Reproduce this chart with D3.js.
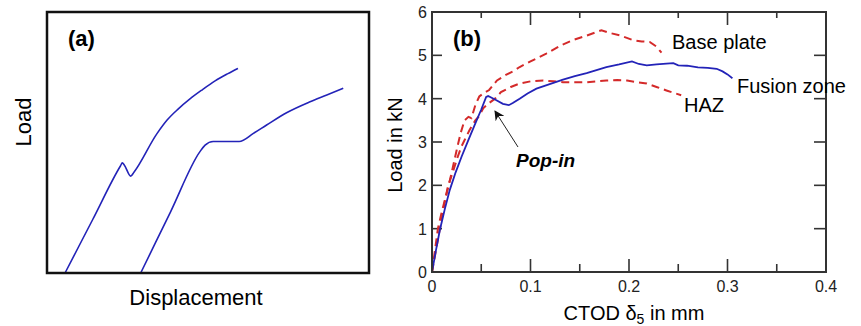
<!DOCTYPE html>
<html>
<head>
<meta charset="utf-8">
<script src="https://cdn.jsdelivr.net/npm/d3@7"></script>
<style>
  body { margin: 0; background: #fff; }
  svg { display: block; font-family: "Liberation Sans", Arial, sans-serif; }
</style>
</head>
<body>
<svg id="chart" width="861" height="326"></svg>
<script>
// ---- panel (a): schematic curves, arbitrary units 0..100 ----
const schemeA1x = [5.6, 14.2, 22.8, 23.4, 24.0, 26.0, 27.0, 34.1, 37.3, 40.7, 44.4, 48.1, 52.2, 56.2, 59.3];
const schemeA1y = [0, 20.5, 41.0, 42.2, 41.4, 37.1, 38.6, 53.3, 58.6, 62.8, 66.7, 70.1, 73.6, 76.4, 78.4];
const schemeA2x = [29.1, 38.3, 47.5, 49.1, 51.6, 59.7, 64.1, 68.2, 74.4, 81.7, 86.9, 92.0];
const schemeA2y = [0, 23.25, 46.5, 49.0, 50.4, 50.4, 53.5, 56.7, 61.4, 65.6, 68.2, 70.8];

// ---- panel (b): CTOD (mm) vs load (kN) ----
const xTicks = [0, 0.1, 0.2, 0.3, 0.4];
const xMinorTicks = [0.05, 0.15, 0.25, 0.35];
const yTicks = [0, 1, 2, 3, 4, 5, 6];

const fusionX = [0, 0.004, 0.008, 0.013, 0.018, 0.024, 0.030, 0.037, 0.044, 0.050, 0.055, 0.057, 0.064, 0.072, 0.078, 0.082, 0.089, 0.097, 0.106, 0.115, 0.124, 0.133, 0.145, 0.157, 0.167, 0.177, 0.190, 0.203, 0.210, 0.218, 0.228, 0.238, 0.245, 0.250, 0.259, 0.270, 0.280, 0.289, 0.295, 0.300, 0.305];
const fusionY = [0, 0.5, 0.97, 1.45, 1.89, 2.3, 2.66, 3.05, 3.43, 3.75, 4.04, 4.06, 3.98, 3.88, 3.85, 3.9, 4.0, 4.12, 4.23, 4.3, 4.37, 4.44, 4.52, 4.59, 4.66, 4.73, 4.79, 4.86, 4.8, 4.77, 4.79, 4.81, 4.82, 4.77, 4.76, 4.72, 4.71, 4.69, 4.63, 4.56, 4.47];

const baseX = [0, 0.003, 0.006, 0.009, 0.013, 0.017, 0.021, 0.025, 0.029, 0.033, 0.037, 0.040, 0.044, 0.048, 0.052, 0.058, 0.066, 0.075, 0.083, 0.089, 0.100, 0.116, 0.130, 0.143, 0.155, 0.165, 0.172, 0.180, 0.191, 0.204, 0.213, 0.221, 0.228, 0.233];
const baseY = [0, 0.5, 1.0, 1.3, 1.66, 2.0, 2.4, 2.81, 3.2, 3.5, 3.58, 3.55, 3.85, 4.05, 4.12, 4.2, 4.42, 4.55, 4.64, 4.73, 4.86, 5.04, 5.22, 5.35, 5.44, 5.52, 5.58, 5.52, 5.46, 5.35, 5.32, 5.31, 5.2, 5.06];

const hazX = [0, 0.004, 0.008, 0.012, 0.016, 0.021, 0.026, 0.030, 0.033, 0.038, 0.044, 0.048, 0.052, 0.058, 0.064, 0.070, 0.080, 0.089, 0.100, 0.113, 0.123, 0.133, 0.145, 0.157, 0.167, 0.177, 0.188, 0.198, 0.208, 0.218, 0.228, 0.238, 0.246, 0.253];
const hazY = [0, 0.5, 1.0, 1.5, 1.96, 2.3, 2.65, 2.9, 3.04, 3.27, 3.5, 3.6, 3.78, 3.9, 4.0, 4.15, 4.27, 4.35, 4.4, 4.42, 4.4, 4.38, 4.38, 4.38, 4.4, 4.42, 4.43, 4.42, 4.38, 4.35, 4.27, 4.19, 4.13, 4.08];

const zip = (xs, ys) => xs.map((x, i) => [x, ys[i]]);

const svg = d3.select("#chart");
const blue = "#2323b8";
const red = "#d42a2a";

// ================= panel (a) =================
const boxA = {left: 47, right: 369, top: 12, bottom: 273};
const xA = d3.scaleLinear().domain([0, 100]).range([boxA.left, boxA.right]);
const yA = d3.scaleLinear().domain([0, 100]).range([boxA.bottom, boxA.top]);

const lineA = d3.line()
    .x(d => xA(d[0]))
    .y(d => yA(d[1]))
    .curve(d3.curveMonotoneX);

svg.append("g").selectAll("path")
    .data([zip(schemeA1x, schemeA1y), zip(schemeA2x, schemeA2y)])
    .join("path")
    .attr("d", lineA)
    .attr("fill", "none")
    .attr("stroke", blue)
    .attr("stroke-width", 1.6);

svg.append("rect")
    .attr("x", boxA.left).attr("y", boxA.top)
    .attr("width", boxA.right - boxA.left)
    .attr("height", boxA.bottom - boxA.top)
    .attr("fill", "none")
    .attr("stroke", "#111")
    .attr("stroke-width", 2.5);

svg.append("text")
    .attr("x", 68).attr("y", 46)
    .attr("font-size", 22).attr("font-weight", "bold")
    .text("(a)");

svg.append("text")
    .attr("transform", "translate(31,122) rotate(-90)")
    .attr("text-anchor", "middle")
    .attr("font-size", 22)
    .text("Load");

svg.append("text")
    .attr("x", 196).attr("y", 305)
    .attr("text-anchor", "middle")
    .attr("font-size", 22)
    .text("Displacement");

// ================= panel (b) =================
const boxB = {left: 432, right: 826, top: 12, bottom: 272};
const x = d3.scaleLinear().domain([0, 0.4]).range([boxB.left, boxB.right]);
const y = d3.scaleLinear().domain([0, 6]).range([boxB.bottom, boxB.top]);

const axisColor = "#333";
const frame = svg.append("g").attr("stroke", axisColor).attr("stroke-width", 1.6);

// ticks (pointing inward on all four sides)
frame.selectAll("line.xb")
    .data(xTicks.concat(xMinorTicks))
    .join("line")
    .attr("x1", d => x(d)).attr("x2", d => x(d))
    .attr("y1", boxB.bottom)
    .attr("y2", d => boxB.bottom - (xTicks.includes(d) ? 13 : 8));
frame.selectAll("line.xt")
    .data(xTicks.concat(xMinorTicks))
    .join("line")
    .attr("x1", d => x(d)).attr("x2", d => x(d))
    .attr("y1", boxB.top)
    .attr("y2", d => boxB.top + (xTicks.includes(d) ? 13 : 6));
frame.selectAll("line.yl")
    .data(yTicks)
    .join("line")
    .attr("x1", boxB.left).attr("x2", boxB.left + 10)
    .attr("y1", d => y(d)).attr("y2", d => y(d));
frame.selectAll("line.yr")
    .data(yTicks)
    .join("line")
    .attr("x1", boxB.right).attr("x2", boxB.right - 12)
    .attr("y1", d => y(d)).attr("y2", d => y(d));

// curves
const lineB = d3.line()
    .x(d => x(d[0]))
    .y(d => y(d[1]));

svg.append("path")
    .datum(zip(hazX, hazY))
    .attr("d", lineB)
    .attr("fill", "none")
    .attr("stroke", red)
    .attr("stroke-width", 2)
    .attr("stroke-dasharray", "8,5");

svg.append("path")
    .datum(zip(baseX, baseY))
    .attr("d", lineB)
    .attr("fill", "none")
    .attr("stroke", red)
    .attr("stroke-width", 2)
    .attr("stroke-dasharray", "8,5");

svg.append("path")
    .datum(zip(fusionX, fusionY))
    .attr("d", lineB)
    .attr("fill", "none")
    .attr("stroke", blue)
    .attr("stroke-width", 1.8);

// frame box
svg.append("rect")
    .attr("x", boxB.left).attr("y", boxB.top)
    .attr("width", boxB.right - boxB.left)
    .attr("height", boxB.bottom - boxB.top)
    .attr("fill", "none")
    .attr("stroke", axisColor)
    .attr("stroke-width", 2);

// tick labels
svg.append("g").selectAll("text")
    .data(xTicks)
    .join("text")
    .attr("x", d => x(d)).attr("y", 292)
    .attr("text-anchor", "middle")
    .attr("font-size", 16)
    .attr("fill", "#222")
    .text(d => d3.format("")(d));

svg.append("g").selectAll("text")
    .data(yTicks)
    .join("text")
    .attr("x", 427).attr("y", d => y(d) + 6)
    .attr("text-anchor", "end")
    .attr("font-size", 16)
    .attr("fill", "#222")
    .text(d => d);

// axis titles
svg.append("text")
    .attr("transform", "translate(402,145) rotate(-90)")
    .attr("text-anchor", "middle")
    .attr("font-size", 20)
    .text("Load in kN");

const xt = svg.append("text")
    .attr("x", 634).attr("y", 320)
    .attr("text-anchor", "middle")
    .attr("font-size", 20);
xt.append("tspan").text("CTOD ");
xt.append("tspan").text("δ");
xt.append("tspan").attr("font-size", 14).attr("dy", 4).text("5");
xt.append("tspan").attr("dy", -4).text(" in mm");

// annotations
svg.append("text").attr("x", 453).attr("y", 46)
    .attr("font-size", 22).attr("font-weight", "bold").text("(b)");
svg.append("text").attr("x", 672).attr("y", 49)
    .attr("font-size", 20).text("Base plate");
svg.append("text").attr("x", 737).attr("y", 93)
    .attr("font-size", 20).text("Fusion zone");
svg.append("text").attr("x", 684).attr("y", 112)
    .attr("font-size", 20).text("HAZ");
svg.append("text").attr("x", 516).attr("y", 167)
    .attr("font-size", 19).attr("font-weight", "bold").attr("font-style", "italic")
    .text("Pop-in");

// arrow to the pop-in point
svg.append("defs").append("marker")
    .attr("id", "head")
    .attr("viewBox", "0 0 10 10")
    .attr("refX", 9).attr("refY", 5)
    .attr("markerWidth", 10).attr("markerHeight", 10)
    .attr("markerUnits", "userSpaceOnUse")
    .attr("orient", "auto")
    .append("path")
    .attr("d", "M0,0 L10,5 L0,10 L3,5 Z")
    .attr("fill", "#111");

svg.append("line")
    .attr("x1", 518).attr("y1", 147)
    .attr("x2", 495).attr("y2", 111)
    .attr("stroke", "#222")
    .attr("stroke-width", 1)
    .attr("marker-end", "url(#head)");
</script>
</body>
</html>
